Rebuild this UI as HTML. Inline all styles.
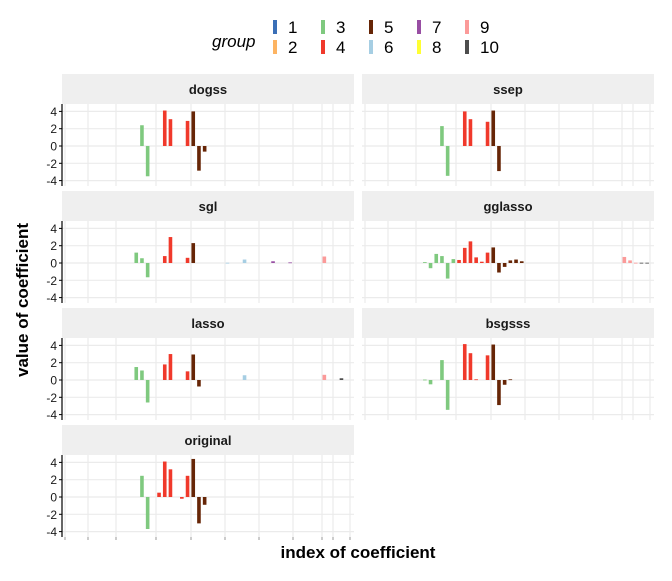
<!DOCTYPE html>
<html><head><meta charset="utf-8">
<style>
body{margin:0;background:#fff;font-family:"Liberation Sans",Arial,sans-serif;}
svg text{font-family:"Liberation Sans",Arial,sans-serif;}
</style></head>
<body>
<svg id="chart" width="672" height="576" viewBox="0 0 672 576" xmlns="http://www.w3.org/2000/svg"></svg>
<script>
const groupColors=["#3a6fb7","#fdb462","#7fc97f","#f0392b","#662506","#a6cee3","#984ea3","#ffff33","#fb9a99","#4d4d4d"];
const groupLabels=["1","2","3","4","5","6","7","8","9","10"];
const yTicks=[4,2,0,-2,-4];
const dogssIdx=[13,14,17,18,21,22,23,24];
const dogssVal=[2.4,-3.5,4.1,3.1,2.9,4.0,-2.85,-0.65];
const ssepIdx=[13,14,17,18,21,22,23];
const ssepVal=[2.3,-3.45,4.0,3.1,2.8,4.1,-2.9];
const sglIdx=[12,13,14,17,18,21,22,28,31,36,39,45];
const sglVal=[1.2,0.55,-1.65,0.8,3.0,0.6,2.3,0.03,0.4,0.2,0.07,0.75];
const gglassoIdx=[10,11,12,13,14,15,16,17,18,19,20,21,22,23,24,25,26,27,45,46,47,48,49];
const gglassoVal=[0.1,-0.6,1.05,0.8,-1.8,0.45,0.35,1.75,2.5,0.65,0.15,1.2,1.8,-1.1,-0.45,0.3,0.4,0.2,0.7,0.3,0.03,0.03,0.03];
const lassoIdx=[12,13,14,17,18,21,22,23,31,45,48];
const lassoVal=[1.5,1.1,-2.6,1.8,3.0,1.0,2.95,-0.75,0.55,0.6,0.2];
const bsgsssIdx=[10,11,13,14,17,18,19,21,22,23,24,25];
const bsgsssVal=[0.05,-0.5,2.3,-3.45,4.15,3.1,0.08,2.85,4.1,-2.9,-0.55,0.08];
const originalIdx=[13,14,16,17,18,20,21,22,23,24];
const originalVal=[2.45,-3.7,0.5,4.1,3.2,-0.2,2.45,4.4,-3.05,-0.9];
const panels=[
 {name:"dogss",idx:dogssIdx,val:dogssVal,col:0,row:0},
 {name:"ssep",idx:ssepIdx,val:ssepVal,col:1,row:0},
 {name:"sgl",idx:sglIdx,val:sglVal,col:0,row:1},
 {name:"gglasso",idx:gglassoIdx,val:gglassoVal,col:1,row:1},
 {name:"lasso",idx:lassoIdx,val:lassoVal,col:0,row:2},
 {name:"bsgsss",idx:bsgsssIdx,val:bsgsssVal,col:1,row:2},
 {name:"original",idx:originalIdx,val:originalVal,col:0,row:3}
];
function groupOf(j){
 if(j<5)return 0;if(j<10)return 1;if(j<16)return 2;if(j<22)return 3;if(j<28)return 4;
 if(j<34)return 5;if(j<40)return 6;if(j<45)return 7;if(j<48)return 8;return 9;}
const NS="http://www.w3.org/2000/svg";
const svg=document.getElementById("chart");
function mk(tag,attrs,parent){const e=document.createElementNS(NS,tag);for(const k in attrs)e.setAttribute(k,attrs[k]);(parent||svg).appendChild(e);return e;}
const PW=292,PH=82,STRIP=30;
const vGrid=[3,26,54,94,129,163,197,231,260,271,288];
function xScale(left,j){return left+3+(j+0.5)*5.7;}
function yScale(top,v){return top+42-v*8.65;}
panels.forEach(p=>{
 const left=62+p.col*300, stripTop=74+p.row*117, top=stripTop+STRIP;
 const g=mk("g",{});
 
 
 const st=mk("rect",{x:left,y:stripTop,width:PW,height:STRIP,fill:"#efefef"},g);
 
 
 const stt=mk("text",{x:left+PW/2,y:stripTop+20,"text-anchor":"middle","font-size":"13","font-weight":"bold",fill:"#1a1a1a"},g);
 stt.textContent=p.name;
 
 
 yTicks.forEach(t=>{const y=yScale(top,t);
  mk("line",{x1:left,x2:left+PW,y1:y,y2:y,stroke:"#ebebeb","stroke-width":1.2},g);
  if(p.col===0){
   const tl=mk("text",{x:left-5,y:y+4.5,"text-anchor":"end","font-size":"12",fill:"#1a1a1a"},g);
   tl.textContent=String(t);
   
   
   mk("line",{x1:left-3,x2:left,y1:y,y2:y,stroke:"#000","stroke-width":1},g);
  }
 });
 vGrid.forEach(o=>mk("line",{x1:left+o,x2:left+o,y1:top,y2:top+PH,stroke:"#ebebeb","stroke-width":1.2},g));
 if(p.col===0) mk("line",{x1:left,x2:left,y1:top,y2:top+PH,stroke:"#000","stroke-width":1.2},g);
 if(p.row===3){
  vGrid.forEach(o=>mk("line",{x1:left+o,x2:left+o,y1:top+PH,y2:top+PH+3,stroke:"#999","stroke-width":1},g));
 }
 p.idx.forEach((j,i)=>{
  const v=p.val[i];const y0=yScale(top,0),y1=yScale(top,v);
  const b=mk("rect",{x:xScale(left,j)-1.8,y:Math.min(y0,y1),width:3.6,height:Math.max(0.8,Math.abs(y1-y0)),fill:groupColors[groupOf(j)]},g);
  
  
 });
});
const lg=mk("g",{});


const lt=mk("text",{x:212,y:47,"font-size":"17","font-style":"italic",fill:"#000"},lg);
lt.textContent="group";


groupLabels.forEach((lab,i)=>{
 const c=Math.floor(i/2),r=i%2;const x=273+c*48,y=20+r*20;
 const k=mk("rect",{x:x,y:y,width:4,height:14,fill:groupColors[i]},lg);
 
 
 const t=mk("text",{x:x+15,y:y+13,"font-size":"17",fill:"#000"},lg);
 t.textContent=lab;
 
 
});
const yt=mk("text",{x:0,y:0,transform:"translate(28,300) rotate(-90)","text-anchor":"middle","font-size":"17","font-weight":"bold",fill:"#000"});
yt.textContent="value of coefficient";


const xt=mk("text",{x:358,y:558,"text-anchor":"middle","font-size":"17","font-weight":"bold",fill:"#000"});
xt.textContent="index of coefficient";


</script>
</body></html>
